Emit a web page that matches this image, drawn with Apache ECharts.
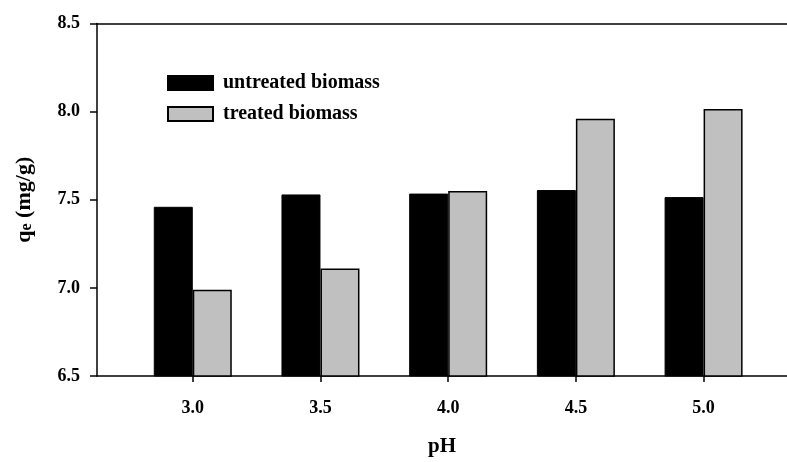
<!DOCTYPE html>
<html>
<head>
<meta charset="utf-8">
<script src="https://cdn.jsdelivr.net/npm/echarts@6/dist/echarts.min.js"></script>
<style>
html,body{margin:0;padding:0;background:#fff;}
#c{width:787px;height:462px;}
</style>
</head>
<body>
<div id="c"></div>
<script>
const phValues = [3.0, 3.5, 4.0, 4.5, 5.0];
const untreated = [7.46, 7.53, 7.535, 7.555, 7.515];
const treated = [6.99, 7.11, 7.55, 7.96, 8.015];
const yTicks = [6.5, 7.0, 7.5, 8.0, 8.5];
const seriesNames = ['untreated biomass', 'treated biomass'];

const FONT = '"Liberation Serif", "Times New Roman", serif';
const chart = echarts.init(document.getElementById('c'), null, {renderer: 'canvas'});

const pairs = arr => phValues.map((x, i) => [x, arr[i]]);
const X_MIN = 2.625, X_MAX = 5.3266;

chart.setOption({
  animation: false,
  backgroundColor: '#fff',
  grid: {left: 97, top: 23.5, right: 0, height: 356.5, containLabel: false},
  legend: {
    left: 167, top: 73, orient: 'vertical', padding: 0,
    itemWidth: 45, itemHeight: 14, itemGap: 11,
    icon: 'rect',
    textStyle: {fontFamily: FONT, fontWeight: 'bold', fontSize: 20, color: '#000', padding: [0,0,0,5]},
    data: seriesNames
  },
  xAxis: [{
    type: 'value', min: X_MIN, max: X_MAX,
    name: 'pH', nameLocation: 'middle', nameGap: 60,
    nameTextStyle: {fontFamily: FONT, fontWeight: 'bold', fontSize: 21, color: '#000'},
    splitLine: {show: false},
    axisLine: {show: true, lineStyle: {color: '#000', width: 1.5}},
    axisTick: {show: true, length: 6, inside: false, lineStyle: {color: '#000', width: 1.5}, customValues: phValues},
    axisLabel: {customValues: phValues, formatter: v => Number(v).toFixed(1), margin: 23,
      fontFamily: FONT, fontWeight: 'bold', fontSize: 18, color: '#000'}
  }, {
    type: 'value', position: 'top', min: X_MIN, max: X_MAX,
    splitLine: {show: false},
    axisLine: {show: true, lineStyle: {color: '#000', width: 1.5}},
    axisTick: {show: false}, axisLabel: {show: false}
  }],
  yAxis: {
    type: 'value', min: yTicks[0], max: yTicks[yTicks.length - 1], interval: 0.5,
    name: '{a|q}{b|e}{a| (mg/g)}', nameLocation: 'middle', nameGap: 62,
    nameTextStyle: {
      rich: {
        a: {fontFamily: FONT, fontWeight: 'bold', fontSize: 22, color: '#000', lineHeight: 26, verticalAlign: 'bottom'},
        b: {fontFamily: FONT, fontWeight: 'bold', fontSize: 16, color: '#000', lineHeight: 20, verticalAlign: 'bottom'}
      }
    },
    splitLine: {show: false},
    axisLine: {show: true, lineStyle: {color: '#000', width: 1.5}},
    axisTick: {show: true, length: 7, lineStyle: {color: '#000', width: 1.5}},
    axisLabel: {formatter: v => Number(v).toFixed(1), margin: 17,
      fontFamily: FONT, fontWeight: 'bold', fontSize: 18, color: '#000'}
  },
  series: [{
    name: seriesNames[0], type: 'bar', xAxisIndex: 0,
    data: pairs(untreated), barWidth: 39, barGap: '0%',
    itemStyle: {color: '#000', borderColor: '#000', borderWidth: 1}
  }, {
    name: seriesNames[1], type: 'bar', xAxisIndex: 0,
    data: pairs(treated), barWidth: 39, barGap: '0%',
    itemStyle: {color: '#c0c0c0', borderColor: '#000', borderWidth: 1.5}
  }]
});
</script>
</body>
</html>
